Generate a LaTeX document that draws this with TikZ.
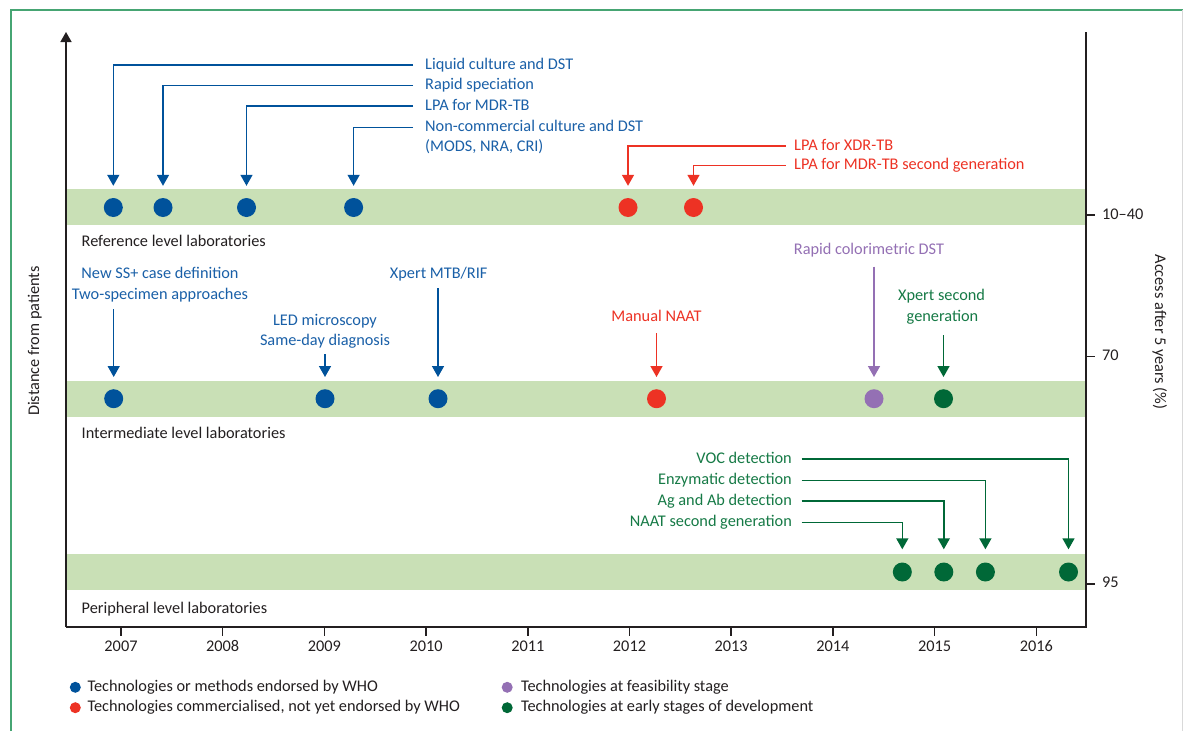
\documentclass[tikz,border=0pt]{standalone}
\usepackage{fontspec}
\setmainfont{Carlito}
\usetikzlibrary{arrows.meta}
\definecolor{cblue}{RGB}{0,82,155}
\definecolor{cbluet}{RGB}{26,96,168}
\definecolor{cred}{RGB}{237,50,36}
\definecolor{cpurple}{RGB}{148,112,180}
\definecolor{cgreen}{RGB}{0,104,55}
\definecolor{cgreent}{RGB}{22,122,70}
\definecolor{band}{RGB}{201,224,182}
\definecolor{framegreen}{RGB}{70,165,115}
\definecolor{ink}{RGB}{35,31,32}
\begin{document}
\begin{tikzpicture}[x=1pt,y=-1pt,
  lbl/.style={inner sep=0pt, font=\fontsize{16.3}{19}\selectfont, text height=11pt, text depth=3pt},
  dot/.style={circle, inner sep=0pt, minimum size=19pt},
  ldot/.style={circle, inner sep=0pt, minimum size=11pt},
  conn/.style={line width=1.5pt, -{Triangle[width=12pt,length=11pt]}, shorten >=12pt},
  conn3/.style={conn, shorten >=13pt},
  axis/.style={line width=1.5pt, ink},
  bandfill/.style={fill=band}]
\useasboundingbox (0,0) rectangle (1183,731);
\fill[white] (0,0) rectangle (1183,731);
\draw[framegreen, line width=1.5pt] (11,731) -- (11,10) -- (1183,10);
\draw[black!15, line width=0.8pt] (1182.5,10) -- (1182.5,731);

% bands
\fill[bandfill] (66,189) rectangle (1086,224.5);
\fill[bandfill] (66,381) rectangle (1086,417);
\fill[bandfill] (66,554) rectangle (1086,590);

% axes
\draw[axis, -{Triangle[width=11pt,length=10pt]}] (66,627) -- (66,32);
\draw[axis] (66,627) -- (1086,627) -- (1086,32);
\foreach \yr [count=\i from 0] in {2007,...,2016} {
  \draw[axis] (121+101.7*\i,627) -- (121+101.7*\i,636);
  \node[lbl, text=ink] (yr\yr) at (121+101.7*\i,647) {\yr};
}
\draw[axis] (1086,215) -- (1095,215);
\draw[axis] (1086,356.5) -- (1095,356.5);
\draw[axis] (1086,584) -- (1095,584);
\node[lbl, anchor=west, text=ink] (a1) at (1102,215) {10–40};
\node[lbl, anchor=west, text=ink] (a2) at (1102,356) {70};
\node[lbl, anchor=west, text=ink] (a3) at (1102,583.5) {95};

\node[lbl, rotate=90, text=ink] (ylab) at (35,341) {Distance from patients};
\node[lbl, rotate=-90, text=ink] (ylab2) at (1159,332) {Access after 5 years (\%)};

% level labels
\node[lbl, anchor=west, text=ink] (lv1) at (81.5,242.5) {Reference level laboratories};
\node[lbl, anchor=west, text=ink] (lv2) at (81.5,434) {Intermediate level laboratories};
\node[lbl, anchor=west, text=ink] (lv3) at (81.5,609) {Peripheral level laboratories};

% band 1 dots
\node[dot, fill=cblue] (r1) at (113.3,207.5) {};
\node[dot, fill=cblue] (r2) at (163,207.5) {};
\node[dot, fill=cblue] (r3) at (246.5,207.5) {};
\node[dot, fill=cblue] (r4) at (353.6,207.5) {};
\node[dot, fill=cred] (r5) at (628,207.5) {};
\node[dot, fill=cred] (r6) at (693.5,207.5) {};

% band 1 labels
\node[lbl, anchor=west, text=cbluet] (t1) at (425,65) {Liquid culture and DST};
\node[lbl, anchor=west, text=cbluet] (t2) at (425,85.5) {Rapid speciation};
\node[lbl, anchor=west, text=cbluet] (t3) at (425,106) {LPA for MDR-TB};
\node[lbl, anchor=west, text=cbluet] (t4) at (425,127.5) {Non-commercial culture and DST};
\node[lbl, anchor=west, text=cbluet] (t4b) at (425,147.5) {(MODS, NRA, CRI)};
\node[lbl, anchor=west, text=cred] (t5) at (794,146) {LPA for XDR-TB};
\node[lbl, anchor=west, text=cred] (t6) at (794,165.5) {LPA for MDR-TB second generation};

\draw[conn, cblue] ([xshift=-12pt]t1.west) -| (r1.north);
\draw[conn, cblue] ([xshift=-12pt]t2.west) -| (r2.north);
\draw[conn, cblue] ([xshift=-12pt]t3.west) -| (r3.north);
\draw[conn, cblue] ([xshift=-12pt]t4.west) -| (r4.north);
\draw[conn, cred] ([xshift=-8.5pt]t5.west) -| (r5.north);
\draw[conn, cred] ([xshift=-8.5pt]t6.west) -| (r6.north);

% band 2 dots
\node[dot, fill=cblue] (m1) at (113.7,398.7) {};
\node[dot, fill=cblue] (m2) at (325,398.7) {};
\node[dot, fill=cblue] (m3) at (438,398.7) {};
\node[dot, fill=cred] (m4) at (656.5,398.7) {};
\node[dot, fill=cpurple] (m5) at (874,398.7) {};
\node[dot, fill=cgreen] (m6) at (943.5,398.7) {};

% band 2 labels
\node[lbl, text=cbluet] (u1) at (160,274) {New SS+ case definition};
\node[lbl, text=cbluet] (u1b) at (160,295) {Two-specimen approaches};
\node[lbl, text=cbluet] (u2) at (325,321.5) {LED microscopy};
\node[lbl, text=cbluet] (u2b) at (325,341.5) {Same-day diagnosis};
\node[lbl, text=cbluet] (u3) at (438.7,274) {Xpert MTB/RIF};
\node[lbl, text=cred] (u4) at (656.5,317) {Manual NAAT};
\node[lbl, text=cpurple] (u5) at (869,250.7) {Rapid colorimetric DST};
\node[lbl, text=cgreent] (u6) at (941.5,296.7) {Xpert second};
\node[lbl, text=cgreent] (u6b) at (942.5,317.7) {generation};

\coordinate (s1) at (113.7,309);
\coordinate (s2) at (325,354);
\coordinate (s3) at (438,288);
\coordinate (s4) at (656.5,333);
\coordinate (s5) at (874,266.7);
\coordinate (s6) at (943.5,335);
\draw[conn, cblue] (s1) -- (m1.north);
\draw[conn, cblue] (s2) -- (m2.north);
\draw[conn, cblue] (s3) -- (m3.north);
\draw[conn, cred] (s4) -- (m4.north);
\draw[conn, cpurple] (s5) -- (m5.north);
\draw[conn, cgreen] (s6) -- (m6.north);

% band 3 dots
\node[dot, fill=cgreen] (p1) at (902.3,572) {};
\node[dot, fill=cgreen] (p2) at (943.8,572) {};
\node[dot, fill=cgreen] (p3) at (985.4,572) {};
\node[dot, fill=cgreen] (p4) at (1068.5,572) {};

% band 3 labels
\node[lbl, anchor=east, text=cgreent] (v4) at (792,459) {VOC detection};
\node[lbl, anchor=east, text=cgreent] (v3) at (792,480.5) {Enzymatic detection};
\node[lbl, anchor=east, text=cgreent] (v2) at (792,501) {Ag and Ab detection};
\node[lbl, anchor=east, text=cgreent] (v1) at (792,522.5) {NAAT second generation};
\draw[conn3, cgreen] ([xshift=9.5pt]v1.east) -| (p1.north);
\draw[conn3, cgreen] ([xshift=9.5pt]v2.east) -| (p2.north);
\draw[conn3, cgreen] ([xshift=9.5pt]v3.east) -| (p3.north);
\draw[conn3, cgreen] ([xshift=9.5pt]v4.east) -| (p4.north);

% legend
\node[ldot, fill=cblue] (k1) at (75.3,687.3) {};
\node[ldot, fill=cred] (k2) at (75.3,707.7) {};
\node[ldot, fill=cpurple] (k3) at (507.2,687.3) {};
\node[ldot, fill=cgreen] (k4) at (507.2,707.7) {};
\node[lbl, anchor=west, text=ink] (kt1) at (87.3,687.3) {Technologies or methods endorsed by WHO};
\node[lbl, anchor=west, text=ink] (kt2) at (87.3,707.7) {Technologies commercialised, not yet endorsed by WHO};
\node[lbl, anchor=west, text=ink] (kt3) at (520.8,687.3) {Technologies at feasibility stage};
\node[lbl, anchor=west, text=ink] (kt4) at (520.8,707.7) {Technologies at early stages of development};
\end{tikzpicture}
\end{document}
